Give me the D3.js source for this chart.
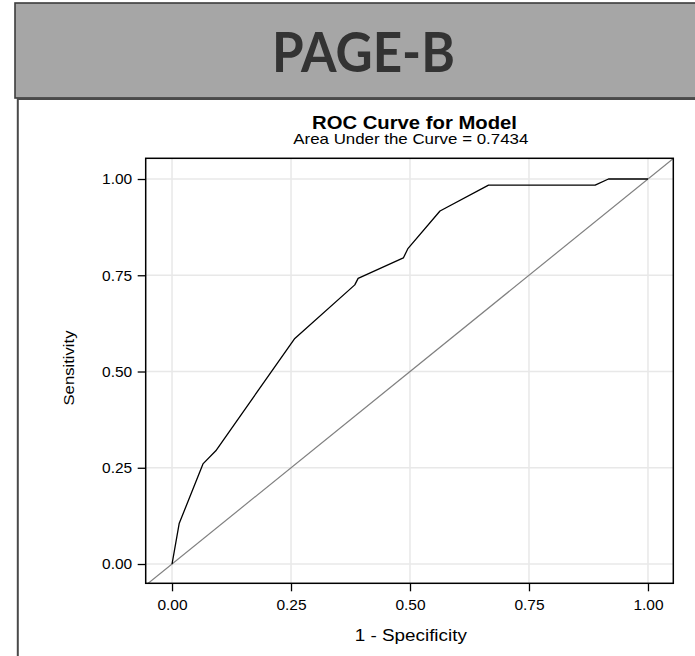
<!DOCTYPE html>
<html>
<head>
<meta charset="utf-8">
<script src="https://cdn.jsdelivr.net/npm/d3@7"></script>
<style>
  html, body { margin: 0; padding: 0; background: #ffffff; }
  svg { display: block; }
</style>
</head>
<body>
<svg id="chart" width="695" height="656"></svg>
<script>
// ---- data ----
const headerText = "PAGE-B";
const chartTitle = "ROC Curve for Model";
const chartSubtitle = "Area Under the Curve = 0.7434";
const xAxisTitle = "1 - Specificity";
const yAxisTitle = "Sensitivity";
const fpr = [0, 0.015, 0.065, 0.092, 0.258, 0.384, 0.391, 0.486, 0.496, 0.563, 0.665, 0.889, 0.917, 1.0];
const tpr = [0, 0.105, 0.260, 0.294, 0.586, 0.725, 0.742, 0.795, 0.820, 0.917, 0.984, 0.984, 1.0, 1.0];
const xTickValues = [0, 0.25, 0.5, 0.75, 1];
const yTickValues = [0, 0.25, 0.5, 0.75, 1];
const xTickLabels = ["0.00", "0.25", "0.50", "0.75", "1.00"];
const yTickLabels = ["0.00", "0.25", "0.50", "0.75", "1.00"];
const refLine = [-0.1, 1.1];

// ---- drawing ----
const svg = d3.select("#chart");
const sans = "'Liberation Sans', Arial, Helvetica, sans-serif";

// header banner
svg.append("rect")
  .attr("x", 15).attr("y", 3).attr("width", 700).attr("height", 95)
  .attr("fill", "#a6a6a6").attr("stroke", "#3c3c3c").attr("stroke-width", 1.6);
svg.append("text")
  .attr("x", 363.4).attr("y", 71.7)
  .attr("text-anchor", "middle")
  .attr("font-family", "Lato, 'Open Sans', sans-serif")
  .attr("font-weight", 700).attr("font-size", 55)
  .attr("textLength", 183).attr("lengthAdjust", "spacingAndGlyphs")
  .attr("fill", "#333333")
  .text(headerText);

// outer content box (left & top border)
svg.append("path")
  .attr("d", "M17.8,700 V99 H700")
  .attr("fill", "none").attr("stroke", "#4a4a4a").attr("stroke-width", 2);

// plot geometry
const L = 145.7, T = 158.3, R = 673.3, B = 583.3;
const x = d3.scaleLinear().domain([-0.0553, 1.0532]).range([L, R]);
const y = d3.scaleLinear().domain([-0.0501, 1.0538]).range([B, T]);

svg.append("defs").append("clipPath").attr("id", "clip")
  .append("rect").attr("x", L).attr("y", T).attr("width", R - L).attr("height", B - T);

// gridlines
const grid = svg.append("g");
grid.selectAll("line.gx").data(xTickValues).join("line")
  .attr("x1", d => x(d)).attr("x2", d => x(d)).attr("y1", T).attr("y2", B)
  .attr("stroke", "#e8e8e8").attr("stroke-width", 1.5);
grid.selectAll("line.gy").data(yTickValues).join("line")
  .attr("y1", d => y(d)).attr("y2", d => y(d)).attr("x1", L).attr("x2", R)
  .attr("stroke", "#e8e8e8").attr("stroke-width", 1.5);

// reference diagonal
svg.append("path")
  .datum(refLine)
  .attr("clip-path", "url(#clip)")
  .attr("d", d3.line().x(d => x(d)).y(d => y(d)))
  .attr("fill", "none").attr("stroke", "#808080").attr("stroke-width", 1.2);

// ROC curve
const pts = fpr.map((f, i) => [f, tpr[i]]);
svg.append("path")
  .datum(pts)
  .attr("clip-path", "url(#clip)")
  .attr("d", d3.line().x(d => x(d[0])).y(d => y(d[1])))
  .attr("fill", "none").attr("stroke", "#000000").attr("stroke-width", 1.3)
  .attr("stroke-linejoin", "round");

// axes
const xAxis = d3.axisBottom(x).tickValues(xTickValues)
  .tickFormat((d, i) => xTickLabels[i]).tickSize(8).tickPadding(8);
const yAxis = d3.axisLeft(y).tickValues(yTickValues)
  .tickFormat((d, i) => yTickLabels[i]).tickSize(8).tickPadding(5.5);

const gx = svg.append("g").attr("transform", `translate(0,${B})`).call(xAxis);
const gy = svg.append("g").attr("transform", `translate(${L},0)`).call(yAxis);
[gx, gy].forEach(g => {
  g.select(".domain").remove();
  g.selectAll(".tick line").attr("stroke", "#000").attr("stroke-width", 1.3);
  g.selectAll(".tick text").attr("font-family", sans).attr("font-size", 15.5).attr("fill", "#000");
});

// frame
svg.append("rect")
  .attr("x", L).attr("y", T).attr("width", R - L).attr("height", B - T)
  .attr("fill", "none").attr("stroke", "#000").attr("stroke-width", 1.5);

// titles
svg.append("text")
  .attr("x", 414.5).attr("y", 129).attr("text-anchor", "middle")
  .attr("font-family", sans).attr("font-weight", 700).attr("font-size", 18)
  .attr("textLength", 205).attr("lengthAdjust", "spacingAndGlyphs").attr("fill", "#000")
  .text(chartTitle);
svg.append("text")
  .attr("x", 410.8).attr("y", 144.3).attr("text-anchor", "middle")
  .attr("font-family", sans).attr("font-size", 14.5)
  .attr("textLength", 235).attr("lengthAdjust", "spacingAndGlyphs").attr("fill", "#000")
  .text(chartSubtitle);
svg.append("text")
  .attr("x", 410.8).attr("y", 641).attr("text-anchor", "middle")
  .attr("font-family", sans).attr("font-size", 16)
  .attr("textLength", 112).attr("lengthAdjust", "spacingAndGlyphs").attr("fill", "#000")
  .text(xAxisTitle);
svg.append("text")
  .attr("transform", "translate(74,368) rotate(-90)")
  .attr("text-anchor", "middle")
  .attr("font-family", sans).attr("font-size", 15)
  .attr("textLength", 75).attr("lengthAdjust", "spacingAndGlyphs").attr("fill", "#000")
  .text(yAxisTitle);
</script>
</body>
</html>
